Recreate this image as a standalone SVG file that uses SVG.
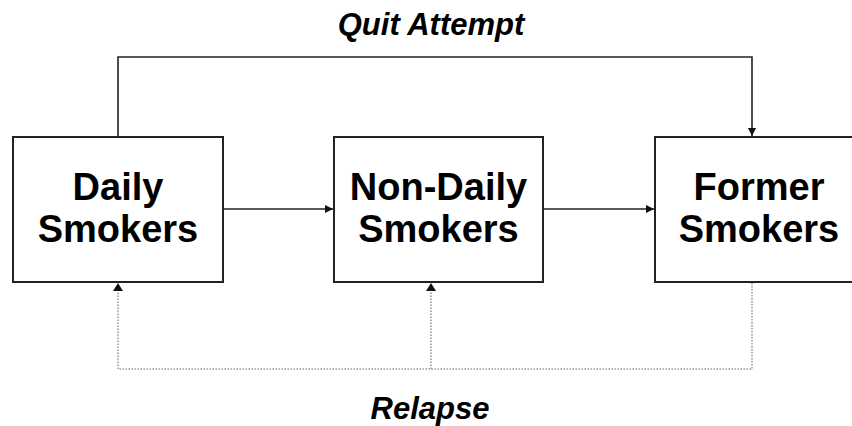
<svg xmlns="http://www.w3.org/2000/svg" width="852" height="426" viewBox="0 0 852 426">
<style>
.box{fill:#fff;stroke:#222;stroke-width:2}
.lbl{font-family:"Liberation Sans",Arial,sans-serif;font-weight:bold;font-size:38px;fill:#000;text-anchor:middle}
.cap{font-family:"Liberation Sans",Arial,sans-serif;font-weight:bold;font-style:italic;font-size:31px;fill:#000;text-anchor:middle}
.solid{fill:none;stroke:#222;stroke-width:1.6}
.dot{fill:none;stroke:#999;stroke-width:1.6;stroke-dasharray:1.5 1.5}
</style>
<defs>
<marker id="ah" viewBox="0 0 10 10" refX="10" refY="5" markerWidth="8" markerHeight="8" markerUnits="userSpaceOnUse" orient="auto">
<path d="M0,0 L10,5 L0,10 Z" fill="#111"/>
</marker>
</defs>
<rect width="852" height="426" fill="#fff"/>
<g id="connectors">
<path class="solid" d="M118,137 V57 H752 V136" marker-end="url(#ah)"/>
<path class="solid" d="M223,209 H333" marker-end="url(#ah)"/>
<path class="solid" d="M543,209 H654" marker-end="url(#ah)"/>
<path class="dot" d="M752,283 V369 H118 V290"/>
<path class="dot" d="M431,369 V290"/>
<path d="M113,291 L118,283 L123,291 Z" fill="#111"/>
<path d="M426,291 L431,283 L436,291 Z" fill="#111"/>
<text class="cap" x="431" y="35">Quit Attempt</text>
<text class="cap" x="430" y="419">Relapse</text>
</g>
<g id="daily">
<rect class="box" x="13" y="137" width="210" height="145"/>
<text class="lbl" x="118" y="200">Daily</text>
<text class="lbl" x="118" y="242">Smokers</text>
</g>
<g id="nondaily">
<rect class="box" x="334" y="137" width="209" height="145"/>
<text class="lbl" x="438.5" y="200">Non-Daily</text>
<text class="lbl" x="438.5" y="242">Smokers</text>
</g>
<g id="former">
<rect class="box" x="655" y="137" width="210" height="145"/>
<text class="lbl" x="759" y="200">Former</text>
<text class="lbl" x="759" y="242">Smokers</text>
</g>
</svg>
